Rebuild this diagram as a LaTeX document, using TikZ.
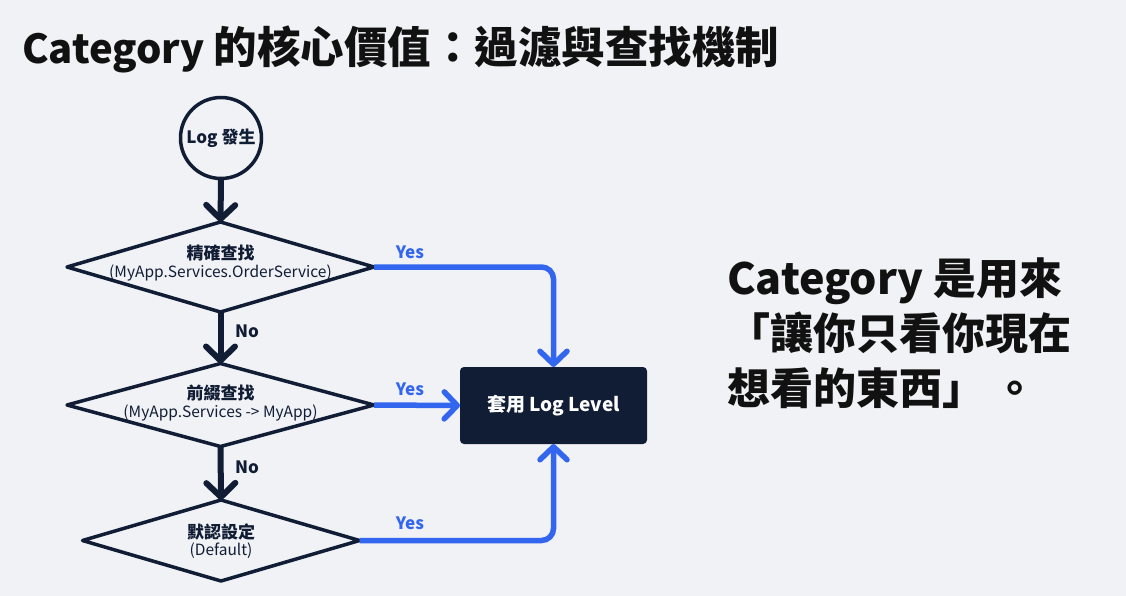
\documentclass[tikz,border=0pt]{standalone}
\usepackage{fontspec}
\setmainfont{Noto Sans CJK TC}
\usetikzlibrary{arrows.meta,shapes.geometric}
\definecolor{navy}{HTML}{101D35}
\definecolor{bl}{HTML}{3366EE}
\definecolor{bg}{HTML}{F1F2F5}
\definecolor{ink}{HTML}{111111}
\begin{document}
\begin{tikzpicture}[x=1pt,y=-1pt,
  decbox/.style={diamond, draw=navy, line width=3.5pt, line join=round, inner sep=0pt, outer sep=0pt},
  start/.style={circle, draw=navy, line width=3.5pt, inner sep=0pt, outer sep=0pt, minimum size=81pt,
    font=\fontsize{17}{20}\selectfont\bfseries, text=navy},
  actbox/.style={rectangle, fill=navy, rounded corners=4pt, inner sep=0pt, outer sep=0pt,
    minimum width=187pt, minimum height=77pt, text=white, font=\fontsize{19}{23}\selectfont\bfseries},
  dtitle/.style={font=\fontsize{17}{20}\selectfont\bfseries, text=navy, inner sep=0pt},
  dsub/.style={font=\fontsize{15.5}{18}\selectfont, text=navy, inner sep=0pt},
  noarrow/.style={draw=navy, line width=6pt, -{Straight Barb[length=14pt,width=29pt,line width=6pt,round]}},
  yesarrow/.style={draw=bl, line width=5.5pt, rounded corners=12pt, -{Straight Barb[length=13pt,width=27pt,line width=5.5pt,round]}},
  yeslbl/.style={font=\fontsize{17}{20}\selectfont\bfseries, text=bl, inner sep=0pt},
  nolbl/.style={font=\fontsize{17}{20}\selectfont\bfseries, text=navy, inner sep=0pt},
]
\fill[bg] (0,0) rectangle (1126,596);
\useasboundingbox (0,0) rectangle (1126,596);

\node[anchor=west, inner sep=0pt, text=ink, font=\bfseries] (title) at (22,49)
  {\fontsize{40}{48}\selectfont Category {\fontsize{43.5}{48}\selectfont 的核心價值：過濾與查找機制}};

\node[start] (c) at (221,138) {Log 發生};

\node[decbox, minimum width=307pt, minimum height=90pt] (d1) at (220.5,267) {};
\node[dtitle] (d1t) at (220.5,253) {精確查找};
\node[dsub] (d1s) at (220.5,273) {(MyApp.Services.OrderService)};

\node[decbox, minimum width=307pt, minimum height=83pt] (d2) at (220.5,405) {};
\node[dtitle] (d2t) at (220.5,393) {前綴查找};
\node[dsub] (d2s) at (220.5,413) {(MyApp.Services -> MyApp)};

\node[decbox, minimum width=277pt, minimum height=81pt] (d3) at (221,540.5) {};
\node[dtitle] (d3t) at (221,532) {默認設定};
\node[dsub] (d3s) at (221,551) {(Default)};

\node[actbox] (box) at (553.5,405.5) {套用 Log Level};

\draw[noarrow] (c.south) -- (d1.north);
\draw[noarrow] (d1.south) -- (d2.north);
\draw[noarrow] (d2.south) -- (d3.north);
\node[nolbl] (no1) at (247,331) {No};
\node[nolbl] (no2) at (247,467) {No};

\draw[yesarrow] (d1.east) -| (box.north);
\draw[yesarrow] (d2.east) -- (box.west);
\draw[yesarrow] (d3.east) -| (box.south);

\node[yeslbl] (y1) at (410,252) {Yes};
\node[yeslbl] (y2) at (410,389) {Yes};
\node[yeslbl] (y3) at (410,523) {Yes};

\node[anchor=west, align=left, inner sep=0pt, text=ink, font=\fontsize{43}{55}\selectfont\bfseries] (msg) at (727,333)
  {Category 是用來\\「讓你只看你現在\\想看的東西」\hspace{0.2em}。};
\end{tikzpicture}
\end{document}
